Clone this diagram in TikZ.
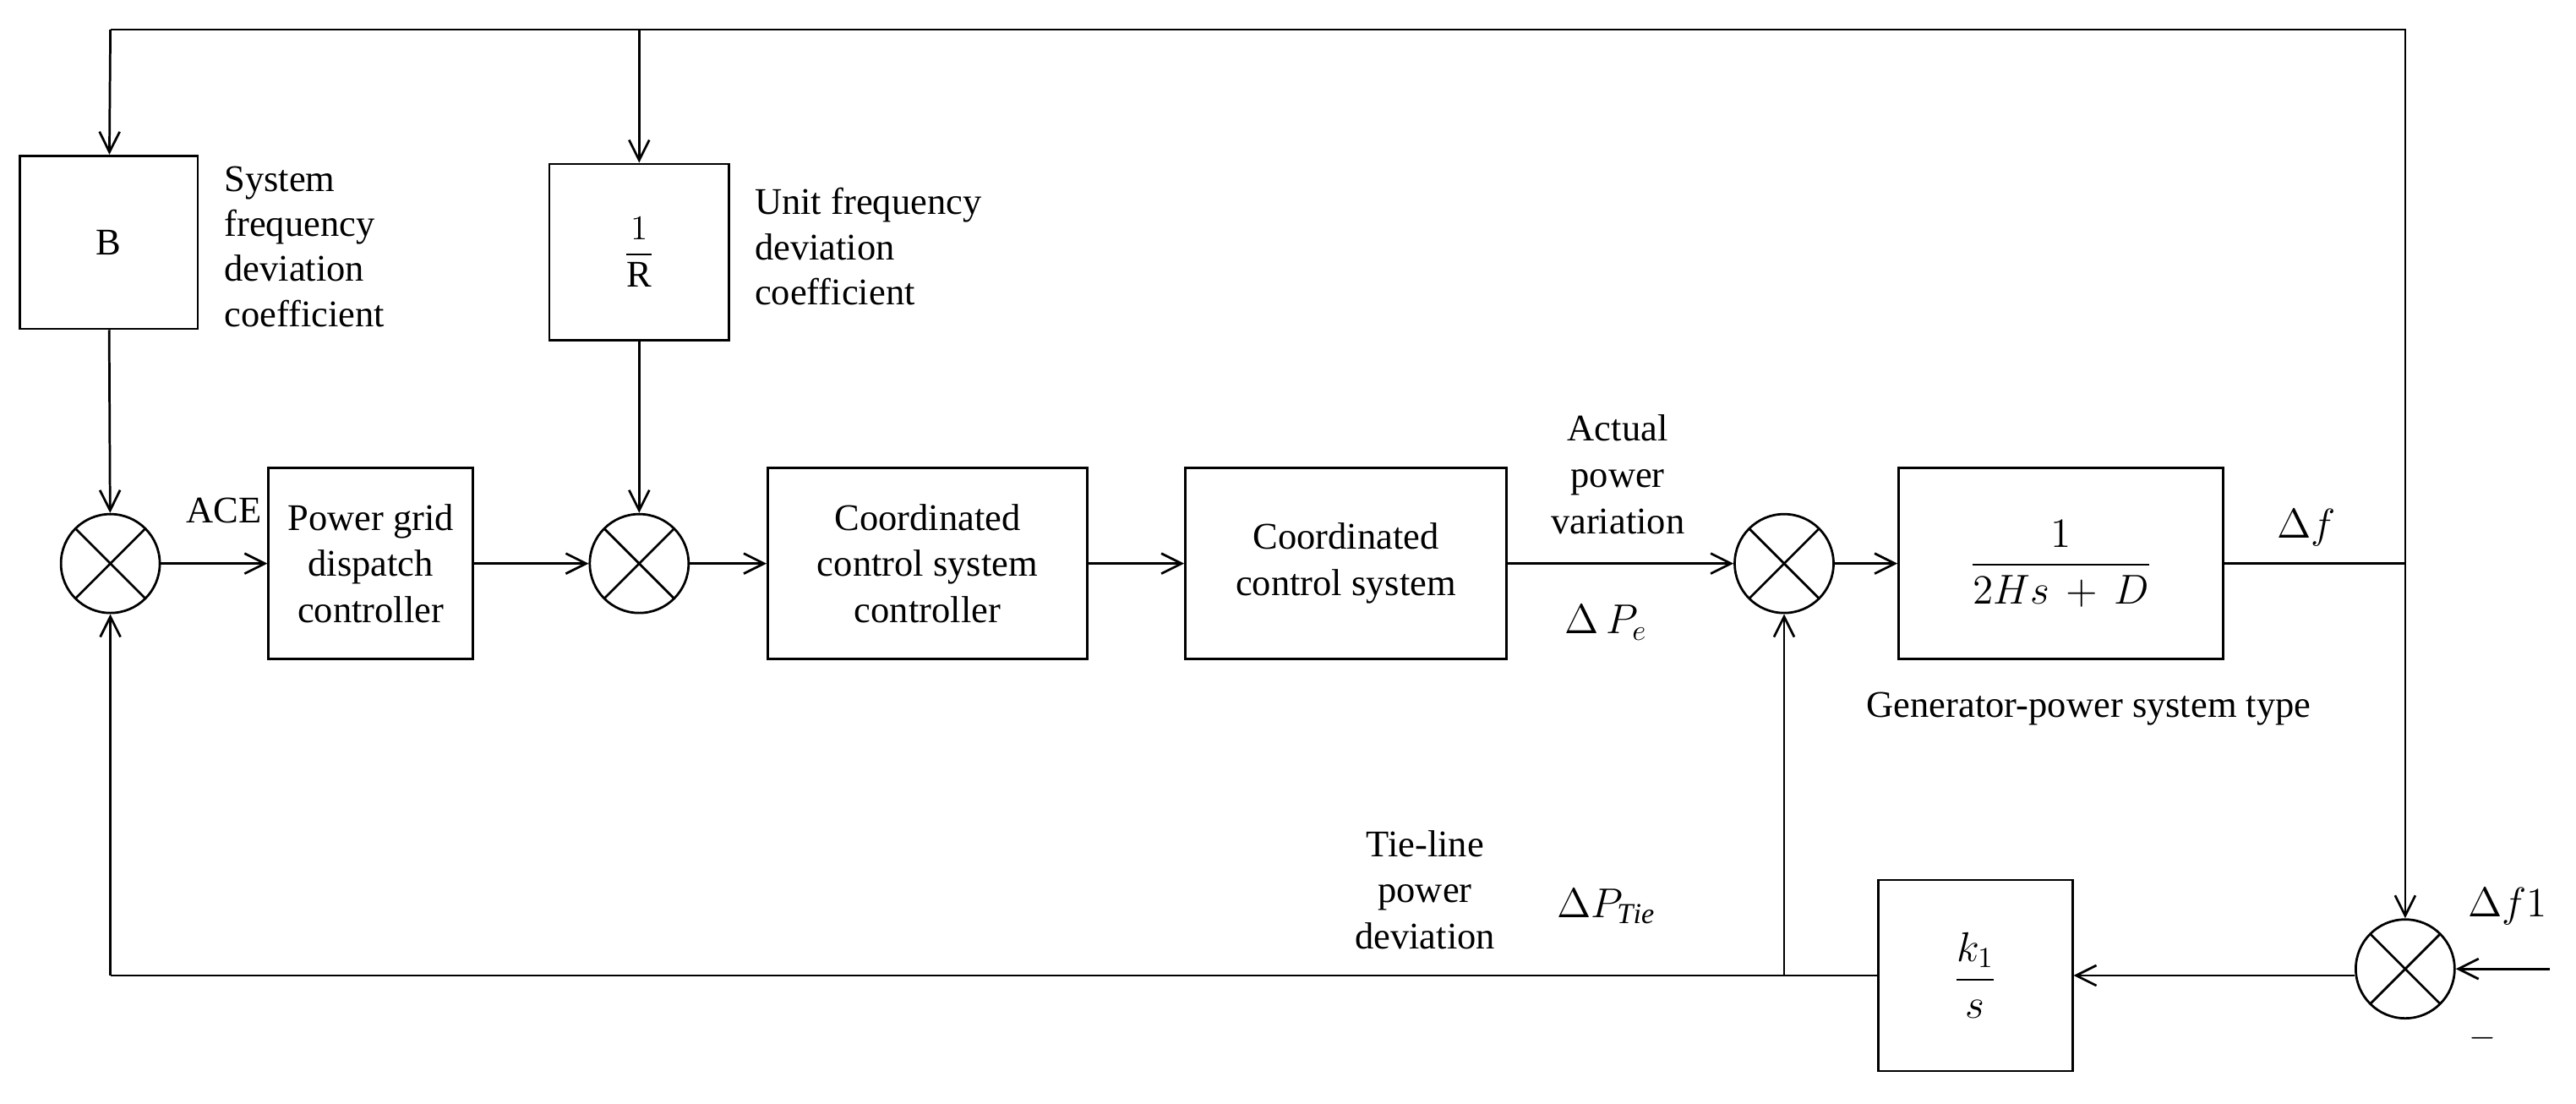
\documentclass[tikz,border=0pt]{standalone}
\usepackage{amsmath}
\usepackage{fontspec}
\setmainfont{Liberation Serif}
\usetikzlibrary{arrows.meta}
\begin{document}
\begin{tikzpicture}[x=0.02cm,y=-0.02cm,
  every node/.style={font=\fontsize{13}{16}\selectfont},
  blk/.style={draw,thick,minimum width=#1*0.02cm,minimum height=116*0.02cm,align=center,inner sep=0},
  sumj/.style={draw,thick,circle,minimum size=60*0.02cm,inner sep=0,path picture={
     \draw[thick] (path picture bounding box.north west)--(path picture bounding box.south east)
                 (path picture bounding box.north east)--(path picture bounding box.south west);}},
  lbl/.style={align=left,font=\fontsize{13}{15.5}\selectfont},
  ar/.style={thick,-{Straight Barb[length=7pt,width=7pt]}},
  ln/.style={thick}]
\useasboundingbox (0,0) rectangle (1563.7,670);
% nodes
\node[blk=108,minimum height=105*0.02cm] (B) at (66,147) {B};
\node[blk=109,minimum height=107*0.02cm] (R) at (388,153) {$\dfrac{1}{\mathrm{R}}$};
\node[sumj] (s1) at (67,342) {};
\node[sumj] (s2) at (388,342) {};
\node[sumj] (s3) at (1083,342) {};
\node[sumj] (s4) at (1460,588) {};
\node[blk=124] (pg) at (225,342) {Power grid\\dispatch\\controller};
\node[blk=194] (ccc) at (563,342) {Coordinated\\control system\\controller};
\node[blk=195] (cc) at (817,342) {Coordinated\\control system};
\node[blk=197] (tf) at (1251,342) {\Large$\dfrac{1}{2Hs\,+\,D}$};
\node[blk=118] (ks) at (1199,592) {\Large$\dfrac{k_1}{s}$};
% labels
\node[lbl,anchor=north west] (lB) at (130,95) {System\\frequency\\deviation\\coefficient};
\node[lbl,anchor=north west] (lR) at (452,108) {Unit frequency\\deviation\\coefficient};
\node (ace) at (136,310) {ACE};
\node[align=center] (apv) at (982,288) {Actual\\power\\variation};
\node (dpe) at (975,378) {\Large$\Delta\,P_{e}$};
\node (df) at (1400,320) {\Large$\Delta f$};
\node (gen) at (1268,430) {Generator-power system type};
\node[align=center] (tie) at (865,540) {Tie-line\\power\\deviation};
\node (dpt) at (975,550) {\Large$\Delta P_{\mathit{Tie}}$};
\node (df1) at (1522,550) {\Large$\Delta f1$};
\node (minus) at (1507,630) {$-$};
% coordinates
\coordinate (t1) at (67,18);
\coordinate (t2) at (388,18);
\coordinate (t3) at (1460,18);
\coordinate (r1) at (1460,342);
\coordinate (in) at (1548,588);
\coordinate (b1) at (67,592);
\coordinate (b2) at (1083,592);
% connectors
\draw[ln] (t1)--(t3)--(r1);
\draw[ar] (r1)--(s4);
\draw[ar] (t1)--(B);
\draw[ar] (t2)--(R);
\draw[ar] (B)--(s1);
\draw[ar] (R)--(s2);
\draw[ar] (s1)--(pg);
\draw[ar] (pg)--(s2);
\draw[ar] (s2)--(ccc);
\draw[ar] (ccc)--(cc);
\draw[ar] (cc)--(s3);
\draw[ar] (s3)--(tf);
\draw[ln] (tf)--(r1);
\draw[ar] (in)--(s4);
\draw[ar] (s4.west|-ks.east)--(ks);
\draw[ln] (ks)--(b1);
\draw[ar] (b1)--(s1);
\draw[ar] (b2)--(s3);
\end{tikzpicture}
\end{document}
